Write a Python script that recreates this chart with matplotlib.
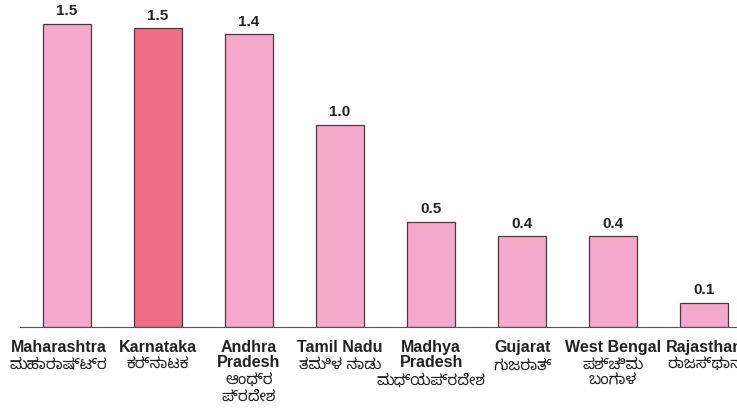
import matplotlib.pyplot as plt

states_en = ['Maharashtra', 'Karnataka', 'Andhra\nPradesh', 'Tamil Nadu',
             'Madhya\nPradesh', 'Gujarat', 'West Bengal', 'Rajasthan']
states_kn = ['ಮಹಾರಾಷ್ಟ್ರ', 'ಕರ್ನಾಟಕ', 'ಆಂಧ್ರ\nಪ್ರದೇಶ', 'ತಮಿಳ ನಾಡು',
             'ಮಧ್ಯಪ್ರದೇಶ', 'ಗುಜರಾತ್', 'ಪಶ್ಚಿಮ\nಬಂಗಾಳ', 'ರಾಜಸ್ಥಾನ']
values = [1.50, 1.48, 1.45, 1.00, 0.52, 0.45, 0.45, 0.12]
value_labels = ['1.5', '1.5', '1.4', '1.0', '0.5', '0.4', '0.4', '0.1']
highlight = 'Karnataka'

en_font = ['Liberation Sans', 'DejaVu Sans']
kn_font = ['Noto Sans Kannada', 'DejaVu Sans']

fig = plt.figure(figsize=(7.37, 4.18), dpi=100)
ax = fig.add_axes([20 / 737, 0.2177, 1 - 20 / 737, 1 - 0.2177])

colors = ['#F06F86' if s == highlight else '#F5A9CB' for s in states_en]
x = list(range(len(values)))
ax.bar(x, values, width=0.53, color=colors, edgecolor='#4a3a3e', linewidth=0.9)

for i, v in enumerate(values):
    ax.annotate(value_labels[i], (i, v), xytext=(0, 4), textcoords='offset points',
                ha='center', va='bottom', fontsize=11, fontweight='bold',
                family=en_font, color='#222222')

for i in x:
    # first label sits a little left of its bar, as in the original
    dx = -6 if i == 0 else 0
    ax.annotate(states_en[i], (i, 0), xytext=(dx, -9), textcoords='offset points',
                ha='center', va='top', fontsize=11.5, fontweight='bold',
                family=en_font, color='#222222', linespacing=1.0,
                annotation_clip=False)
    n = states_en[i].count('\n') + 1
    ax.annotate(states_kn[i], (i, 0), xytext=(dx, -11 - 11.5 * n), textcoords='offset points',
                ha='center', va='top', fontsize=11, family=kn_font, color='#222222',
                linespacing=1.0, annotation_clip=False)

ax.set_xlim(-0.516, 7.36)
ax.set_ylim(0, 1.619)
for side in ['top', 'right', 'left']:
    ax.spines[side].set_visible(False)
ax.spines['bottom'].set_color('#555555')
ax.set_xticks([])
ax.set_yticks([])

fig.savefig('out.png', dpi=100)
